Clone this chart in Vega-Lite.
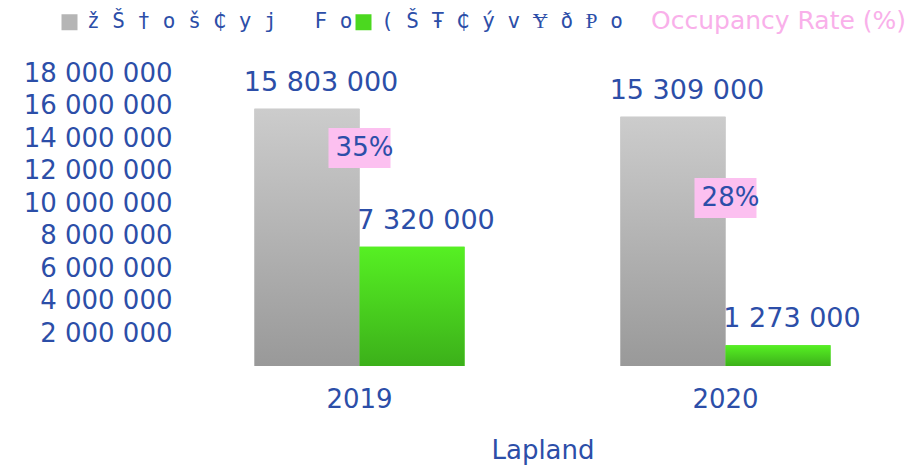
{
  "$schema": "https://vega.github.io/schema/vega-lite/v6.json",
  "width": 725,
  "height": 293,
  "autosize": {"type": "none"},
  "padding": {"left": 180, "top": 73, "right": 0, "bottom": 102},
  "config": {
    "view": {"stroke": null},
    "locale": {"number": {"decimal": ".", "thousands": " ", "grouping": [3], "currency": ["", ""]}},
    "font": "DejaVu Sans",
    "axis": {"labelFont": "DejaVu Sans", "labelColor": "#2c4ea8", "titleColor": "#2c4ea8", "titleFont": "DejaVu Sans", "titleFontWeight": "normal", "domain": false, "ticks": false, "tickSize": 0, "grid": false}
  },
  "datasets": {
    "beds": [
      {"region": "Lapland", "year": "2019", "key": "a", "series": "ž Š † o š ₵ y j\u00a0\u00a0\u00a0F o", "value": 15803000},
      {"region": "Lapland", "year": "2019", "key": "b", "series": "( Š Ŧ ₵ ý v Ɏ ð Ᵽ o\u00a0", "value": 7320000},
      {"region": "Lapland", "year": "2020", "key": "a", "series": "ž Š † o š ₵ y j\u00a0\u00a0\u00a0F o", "value": 15309000},
      {"region": "Lapland", "year": "2020", "key": "b", "series": "( Š Ŧ ₵ ý v Ɏ ð Ᵽ o\u00a0", "value": 1273000}
    ],
    "rates": [
      {"region": "Lapland", "year": "2019", "rate": 0.35},
      {"region": "Lapland", "year": "2020", "rate": 0.28}
    ]
  },
  "layer": [
    {
      "data": {"name": "beds"},
      "encoding": {
        "x": {"field": "year", "type": "nominal", "scale": {"paddingInner": 0.426, "paddingOuter": 0.2035},
              "axis": {"title": "Lapland", "labelAngle": 0, "labelFontSize": 26, "labelPadding": 20, "titleFontSize": 26, "titlePadding": 25}},
        "xOffset": {"field": "key", "type": "nominal", "scale": {"domain": ["a", "b"]}},
        "y": {"field": "value", "type": "quantitative", "scale": {"domain": [0, 18000000], "nice": false},
              "axis": {"values": [2000000, 4000000, 6000000, 8000000, 10000000, 12000000, 14000000, 16000000, 18000000], "labelExpr": "format(datum.value, ',')", "labelFontSize": 26, "labelPadding": 8, "title": null}}
      },
      "layer": [
        {
          "mark": {"type": "bar"},
          "encoding": {
            "color": {"field": "series", "type": "nominal",
              "scale": {"domain": ["ž Š † o š ₵ y j\u00a0\u00a0\u00a0F o", "( Š Ŧ ₵ ý v Ɏ ð Ᵽ o\u00a0", "Occupancy Rate (%)"], "range": ["#b5b5b5", "#4bd81f", "#fcc0f0"]},
              "legend": {
                "orient": "none", "legendX": -121, "legendY": -63, "direction": "horizontal", "title": null,
                "padding": 0, "symbolType": "square", "symbolSize": 256, "symbolStrokeWidth": 0,
                "labelOffset": 7, "labelLimit": 1000, "columnPadding": 0,
                "labelFont": {"expr": "datum.value == 'Occupancy Rate (%)' ? 'DejaVu Sans' : 'DejaVu Sans Mono'"},
                "labelFontSize": {"expr": "datum.value == 'Occupancy Rate (%)' ? 25 : 21"},
                "labelColor": {"expr": "datum.value == 'Occupancy Rate (%)' ? '#f9b0ea' : '#2c4ea8'"},
                "symbolOpacity": {"expr": "datum.value == 'Occupancy Rate (%)' ? 0 : 1"}
              }
            }
          }
        },
        {
          "transform": [{"filter": {"field": "key", "equal": "a"}}],
          "mark": {"type": "bar", "color": {"gradient": "linear", "x1": 0, "y1": 0, "x2": 0, "y2": 1, "stops": [{"offset": 0, "color": "#cccccc"}, {"offset": 1, "color": "#999999"}]}}
        },
        {
          "transform": [{"filter": {"field": "key", "equal": "b"}}],
          "mark": {"type": "bar", "color": {"gradient": "linear", "x1": 0, "y1": 0, "x2": 0, "y2": 1, "stops": [{"offset": 0, "color": "#56f023"}, {"offset": 1, "color": "#3cb01a"}]}}
        },
        {
          "mark": {"type": "text", "baseline": "alphabetic", "dx": 14, "dy": -18, "fontSize": 27, "color": "#2c4ea8", "font": "DejaVu Sans"},
          "encoding": {"text": {"field": "value", "type": "quantitative", "format": ","}}
        }
      ]
    },
    {
      "data": {"name": "rates"},
      "encoding": {
        "x": {"field": "year", "type": "nominal"},
        "y": {"field": "rate", "type": "quantitative", "scale": {"domain": [0.045, 0.455], "nice": false, "zero": false}, "axis": null}
      },
      "layer": [
        {"mark": {"type": "point", "shape": "M-1,-0.645H1V0.645H-1Z", "size": 3844, "filled": true, "color": "#fcc0f0", "opacity": 1, "strokeWidth": 0}},
        {"mark": {"type": "text", "baseline": "middle", "dx": 5, "fontSize": 26, "color": "#2c4ea8", "font": "DejaVu Sans"},
         "encoding": {"text": {"field": "rate", "type": "quantitative", "format": ".0%"}}}
      ]
    }
  ],
  "resolve": {"scale": {"y": "independent"}}
}
